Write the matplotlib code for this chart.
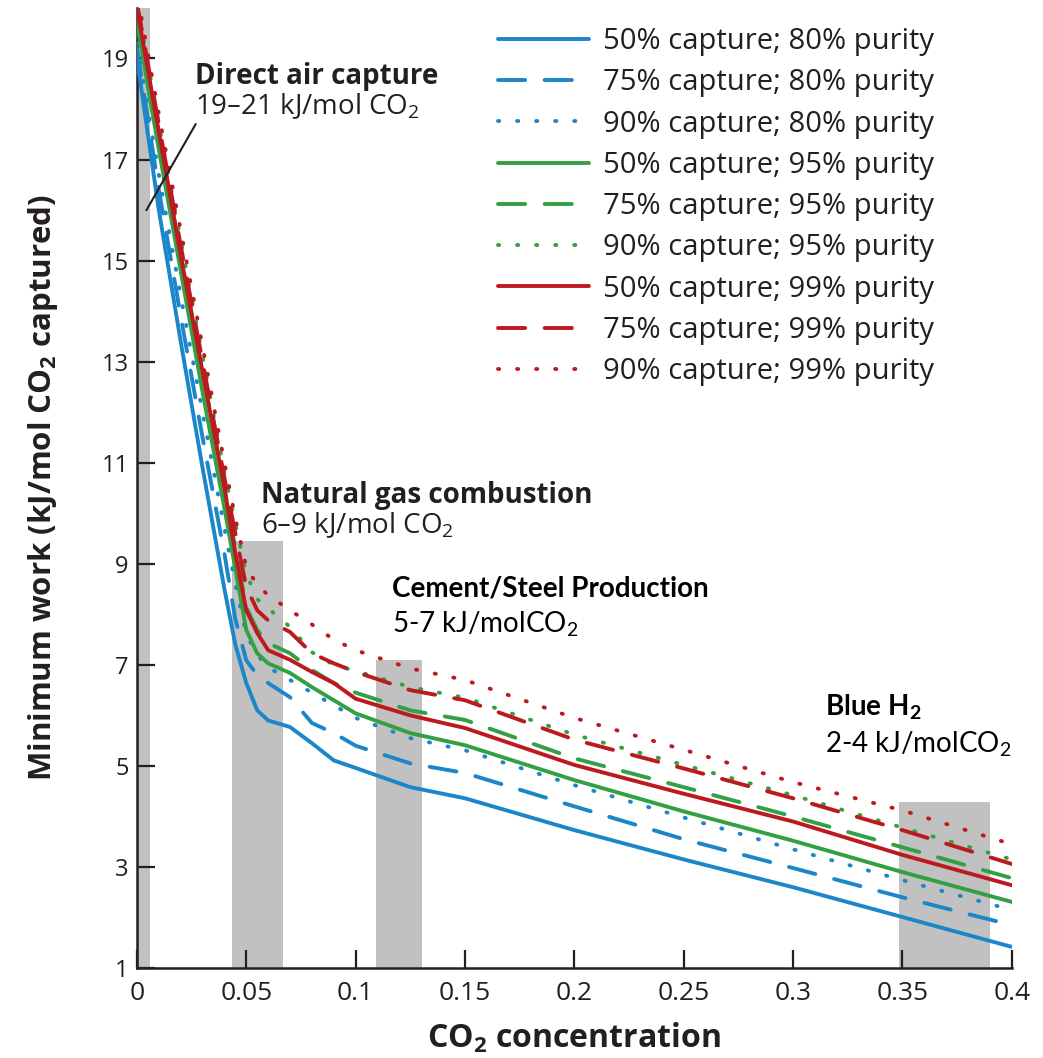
import matplotlib.pyplot as plt

plt.rcParams['font.family'] = ['Open Sans', 'DejaVu Sans']

# CO2 concentration grid
conc = [0, 0.01, 0.02, 0.03, 0.04, 0.045, 0.05, 0.055, 0.06, 0.07, 0.08, 0.09, 0.1,
        0.125, 0.15, 0.2, 0.25, 0.3, 0.35, 0.4]

# minimum work, kJ/mol CO2 captured
b50 = [19.0, 16.0, 13.4, 10.9, 8.5, 7.4, 6.64, 6.1, 5.9, 5.77, 5.45, 5.11, 4.96, 4.58, 4.36, 3.73, 3.15, 2.60, 2.01, 1.42]
b75 = [19.2, 16.4, 13.9, 11.5, 9.2, 7.9, 7.09, 6.8, 6.64, 6.36, 5.85, 5.65, 5.40, 5.05, 4.86, 4.2, 3.55, 2.98, 2.40, 1.85]
b90 = [19.3, 16.7, 14.3, 12.0, 9.7, 8.6, 7.6, 7.2, 6.95, 6.7, 6.45, 6.2, 5.95, 5.55, 5.31, 4.62, 3.98, 3.35, 2.74, 2.15]
g50 = [19.7, 17.2, 14.8, 12.4, 10.1, 8.9, 7.69, 7.23, 7.03, 6.84, 6.56, 6.30, 6.04, 5.65, 5.41, 4.72, 4.1, 3.52, 2.90, 2.31]
g75 = [19.9, 17.5, 15.1, 12.8, 10.5, 9.3, 8.14, 7.69, 7.43, 7.23, 6.9, 6.64, 6.45, 6.1, 5.91, 5.15, 4.58, 4.0, 3.39, 2.78]
g90 = [20.1, 17.7, 15.4, 13.1, 10.8, 9.8, 8.8, 8.3, 8.12, 7.75, 7.25, 7.0, 6.88, 6.56, 6.35, 5.62, 5.02, 4.42, 3.78, 3.15]
r50 = [20.0, 17.55, 15.1, 12.8, 10.5, 9.2, 8.08, 7.63, 7.29, 7.1, 6.86, 6.64, 6.33, 6.0, 5.75, 5.02, 4.45, 3.9, 3.24, 2.64]
r75 = [20.1, 17.7, 15.3, 13.0, 10.7, 9.6, 8.54, 8.08, 7.88, 7.65, 7.23, 7.03, 6.86, 6.5, 6.3, 5.52, 4.95, 4.36, 3.73, 3.06]
r90 = [20.3, 17.9, 15.6, 13.3, 11.0, 9.9, 8.93, 8.58, 8.38, 8.08, 7.8, 7.5, 7.29, 6.93, 6.70, 5.95, 5.32, 4.68, 4.12, 3.45]

labels = ['50% capture; 80% purity', '75% capture; 80% purity', '90% capture; 80% purity',
          '50% capture; 95% purity', '75% capture; 95% purity', '90% capture; 95% purity',
          '50% capture; 99% purity', '75% capture; 99% purity', '90% capture; 99% purity']

# shaded source ranges (x from, x to, top)
band_x0 = [0.0, 0.0435, 0.1095, 0.3485]
band_x1 = [0.006, 0.0667, 0.1305, 0.390]
band_top = [20.0, 9.45, 7.1, 4.28]

blue = '#1b86c9'
green = '#33a043'
red = '#bd1a20'
dashed = (0, (7.0, 5.0))
dotted = (0, (0.3, 4.6))

fig = plt.figure(figsize=(10.43, 10.58), dpi=100)
ax = fig.add_axes([0.1313, 0.085, 0.8387, 0.9075])

for x0, x1, top in zip(band_x0, band_x1, band_top):
    ax.bar(x0, top - 1, width=x1 - x0, bottom=1, align='edge', color='#c2c1c1', zorder=1)

series = [b50, b75, b90, g50, g75, g90, r50, r75, r90]
colors = [blue] * 3 + [green] * 3 + [red] * 3
styles = ['-', dashed, dotted] * 3
for ys, c, ls, lab in zip(series, colors, styles, labels):
    ax.plot(conc, ys, color=c, linestyle=ls, lw=2.8, label=lab,
            dash_capstyle='round', solid_capstyle='round', zorder=3)

ax.set_xlim(0, 0.4)
ax.set_ylim(1, 20)
ax.set_xticks([0, 0.05, 0.1, 0.15, 0.2, 0.25, 0.3, 0.35, 0.4])
ax.set_xticklabels(['0', '0.05', '0.1', '0.15', '0.2', '0.25', '0.3', '0.35', '0.4'])
ax.set_yticks([1, 3, 5, 7, 9, 11, 13, 15, 17, 19])
ax.tick_params(direction='in', length=13, width=1.6, colors='#231f20')
ax.tick_params(axis='x', labelsize=19, pad=9)
ax.tick_params(axis='y', labelsize=17, pad=6)
for s in ['top', 'right']:
    ax.spines[s].set_visible(False)
for s in ['left', 'bottom']:
    ax.spines[s].set_linewidth(1.8)
    ax.spines[s].set_color('#231f20')

ax.set_xlabel(r'CO$_\mathregular{2}$ concentration', fontsize=23, fontweight='bold',
              color='#231f20', labelpad=11)
ax.set_ylabel(r'Minimum work (kJ/mol CO$_\mathregular{2}$ captured)', fontsize=22.5,
              fontweight='bold', color='#231f20', labelpad=30)

leg = ax.legend(loc='upper left', bbox_to_anchor=(0.413, 0.98), frameon=False,
                fontsize=21, handlelength=3.1, handletextpad=0.5, labelspacing=0.42,
                borderaxespad=0, borderpad=0)
for t in leg.get_texts():
    t.set_color('#231f20')

dark = '#231f20'
ax.text(0.0265, 18.5, 'Direct air capture', fontsize=20, fontweight='bold', color=dark)
ax.text(0.0265, 17.9, r'19–21 kJ/mol CO$_\mathregular{2}$', fontsize=20, color=dark)
ax.annotate('', xy=(0.0037, 15.95), xytext=(0.0275, 17.75),
            arrowprops=dict(arrowstyle='-', color='#231f20', lw=1.5))
ax.text(0.0565, 10.2, 'Natural gas combustion', fontsize=20, fontweight='bold', color=dark)
ax.text(0.0565, 9.6, r'6–9 kJ/mol CO$_\mathregular{2}$', fontsize=20, color=dark)

ax.text(0.1165, 8.36, 'Cement/Steel Production', fontsize=20, fontweight='bold',
        color='black', family=['Lato', 'DejaVu Sans'])
ax.text(0.1165, 7.65, r'5-7 kJ/molCO$_\mathregular{2}$', fontsize=20, color='black',
        family=['Lato', 'DejaVu Sans'])
ax.text(0.3145, 6.0, r'Blue H$_\mathregular{2}$', fontsize=20, fontweight='bold',
        color='black', family=['Lato', 'DejaVu Sans'])
ax.text(0.3145, 5.27, r'2-4 kJ/molCO$_\mathregular{2}$', fontsize=20, color='black',
        family=['Lato', 'DejaVu Sans'])

fig.savefig('out.png', dpi=100)
